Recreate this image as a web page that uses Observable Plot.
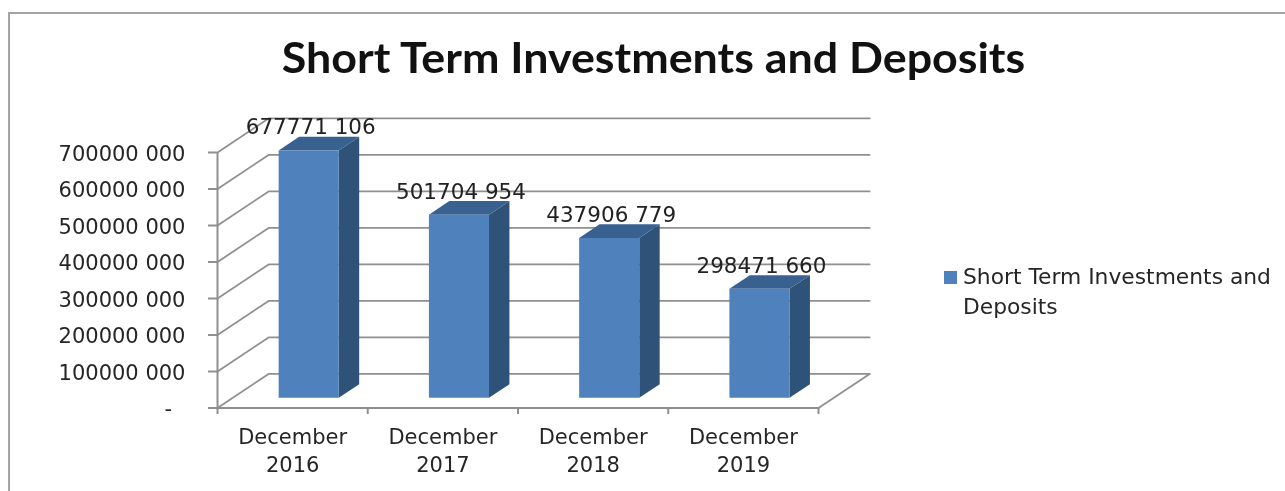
<!DOCTYPE html>
<html>
<head>
<meta charset="utf-8">
<script src="https://cdn.jsdelivr.net/npm/d3@7"></script>
<script src="https://cdn.jsdelivr.net/npm/@observablehq/plot@0.6"></script>
<style>
  html, body { margin: 0; padding: 0; background: #fff; }
  #page { position: relative; width: 1285px; height: 491px; overflow: hidden; font-family: "DejaVu Sans", sans-serif; color: #222; filter: blur(0.4px); }
  #frame { position: absolute; left: 8px; top: 12px; width: 1290px; height: 500px; border: 2px solid #a3a3a3; box-sizing: border-box; }
  #title { position: absolute; left: 0; top: 31px; width: 1307px; text-align: center; font-family: Lato, sans-serif; font-size: 42px; font-weight: 700; line-height: 52px; color: #111; white-space: nowrap; transform: scaleX(1.066); transform-origin: 653.5px 0; }
  #chart { position: absolute; left: 0; top: 0; }
  #chart svg { display: block; }
  #legend { position: absolute; left: 944px; top: 262px; font-size: 21.8px; line-height: 29.5px; color: #262626; }
  #legend i { position: absolute; left: 0; top: 9px; width: 13px; height: 13px; background: #4f81bd; }
  #legend span { display: block; margin-left: 19px; white-space: nowrap; }
</style>
</head>
<body>
<div id="page">
  <div id="frame"></div>
  <div id="title"></div>
  <div id="chart"></div>
  <div id="legend"></div>
</div>
<script>
const titleText = "Short Term Investments and Deposits";
const legendLines = ["Short Term Investments and", "Deposits"];
const categories = ["December\n2016", "December\n2017", "December\n2018", "December\n2019"];
const values = [677771106, 501704954, 437906779, 298471660];
const yTicks = [0, 100000000, 200000000, 300000000, 400000000, 500000000, 600000000, 700000000];
const xTicks = [0, 1, 2, 3, 4];

// Oblique projection: depth 0..1 moves a point right and up, in scale units.
const depthX = 0.34;
const depthY = 93.4e6;
const project = (x, v, d) => ({x: x + d * depthX, y: v + d * depthY});

const barStart = 0.305, barWidth = 0.4, depthFront = 0.3, depthBack = 0.7;

const fmt = v => {
  if (v === 0) return "-\u00a0\u00a0";
  const s = String(v);
  return s.slice(0, -3) + " " + s.slice(-3);
};

// Wall gridlines, floor edges
const wall = yTicks.flatMap(v => [
  {k: v, ...project(0, v, 0)},
  {k: v, ...project(0, v, 1)},
  {k: v, ...project(4, v, 1)}
]);
const floorRight = [project(4, 0, 0), project(4, 0, 1)];

// Bar faces
const face = (name, corners) => values.flatMap((v, i) => corners(i, v).map(p => ({k: name + i, ...p})));
const topFace = face("t", (i, v) => [
  project(i + barStart, v, depthFront),
  project(i + barStart + barWidth, v, depthFront),
  project(i + barStart + barWidth, v, depthBack),
  project(i + barStart, v, depthBack)
]);
const sideFace = face("s", (i, v) => [
  project(i + barStart + barWidth, 0, depthFront),
  project(i + barStart + barWidth, v, depthFront),
  project(i + barStart + barWidth, v, depthBack),
  project(i + barStart + barWidth, 0, depthBack)
]);
const frontFace = face("f", (i, v) => [
  project(i + barStart, 0, depthFront),
  project(i + barStart + barWidth, 0, depthFront),
  project(i + barStart + barWidth, v, depthFront),
  project(i + barStart, v, depthFront)
]);
const labelPoints = values.map((v, i) => ({
  text: fmt(v),
  ...project(i + barStart + barWidth / 2, v, depthFront)
}));

const gridColor = "#8f8f8f";

const chart = Plot.plot({
  width: 1285,
  height: 491,
  marginLeft: 217,
  marginRight: 416,
  marginTop: 117,
  marginBottom: 84,
  style: {background: "transparent", fontFamily: "'DejaVu Sans', sans-serif", overflow: "visible"},
  x: {type: "linear", domain: [0, 4], range: [217, 818], axis: null},
  y: {type: "linear", domain: [0, 700000000], range: [407.5, 152], axis: null},
  marks: [
    Plot.line(wall, {x: "x", y: "y", z: "k", stroke: gridColor, strokeWidth: 1.8}),
    Plot.line(floorRight, {x: "x", y: "y", stroke: gridColor, strokeWidth: 1.8}),
    Plot.ruleX([0], {y1: 0, y2: 700000000, stroke: gridColor, strokeWidth: 2}),
    Plot.ruleY([0], {x1: 0, x2: 4, stroke: gridColor, strokeWidth: 2}),
    Plot.axisY({
      ticks: yTicks, tickFormat: () => "", tickSize: 9,
      stroke: gridColor, strokeWidth: 2, label: null
    }),
    Plot.text(yTicks, {
      x: () => 0, y: d => d, text: fmt, textAnchor: "end",
      dx: -32, dy: 1.5, fontSize: 21, fill: "#262626"
    }),
    Plot.axisX({
      ticks: xTicks, tickFormat: () => "", tickSize: 7,
      stroke: gridColor, strokeWidth: 2, label: null
    }),
    Plot.text(categories, {
      x: (d, i) => i + 0.5, y: () => 0, text: d => d,
      dy: 17, lineAnchor: "top", lineHeight: 1.3, fontSize: 21, fill: "#262626"
    }),
    Plot.line(sideFace, {x: "x", y: "y", z: "k", fill: "#2f5279", stroke: "none"}),
    Plot.line(topFace, {x: "x", y: "y", z: "k", fill: "#38618f", stroke: "none"}),
    Plot.line(frontFace, {x: "x", y: "y", z: "k", fill: "#4f81bd", stroke: "none"}),
    Plot.text(labelPoints, {
      x: "x", y: "y", text: "text", dx: 2, dy: -23, fontSize: 21.5, fill: "#222"
    })
  ]
});

document.getElementById("chart").appendChild(chart);
document.getElementById("title").textContent = titleText;
const legend = document.getElementById("legend");
legend.innerHTML = "<i></i>";
legendLines.forEach(t => {
  const s = document.createElement("span");
  s.textContent = t;
  legend.appendChild(s);
});
</script>
</body>
</html>
